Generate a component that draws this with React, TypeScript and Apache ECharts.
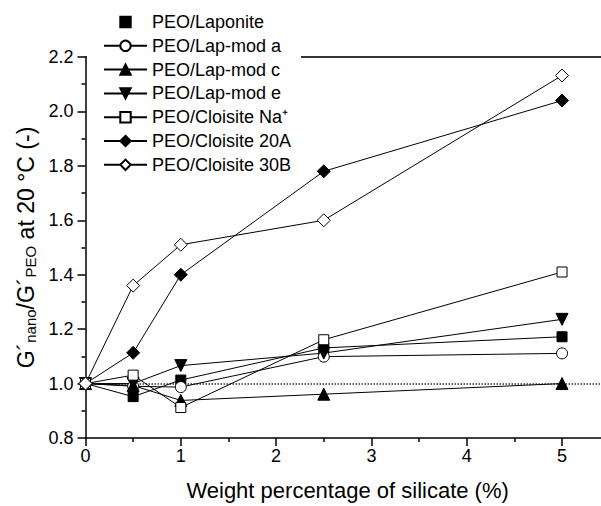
import React, { useEffect, useRef } from 'react';
import * as echarts from 'echarts';

// x positions (weight % of silicate)
const xValues = [0, 0.5, 1, 2.5, 5];

// G'nano / G'PEO at 20 °C
const laponite = [1.0, 0.952, 1.013, 1.131, 1.172];
const lapModA = [1.0, 0.99, 0.987, 1.099, 1.111];
const lapModC = [1.0, 0.993, 0.938, 0.961, 1.0];
const lapModE = [1.0, 1.0, 1.066, 1.112, 1.236];
const cloisiteNa = [1.0, 1.031, 0.912, 1.161, 1.41];
const cloisite20A = [1.0, 1.113, 1.4, 1.78, 2.04];
const cloisite30B = [1.0, 1.36, 1.51, 1.6, 2.132];

const seriesNames = [
  'PEO/Laponite',
  'PEO/Lap-mod a',
  'PEO/Lap-mod c',
  'PEO/Lap-mod e',
  'PEO/Cloisite Na⁺',
  'PEO/Cloisite 20A',
  'PEO/Cloisite 30B',
];

const referenceLevel = 1.0;

const FONT = '"Liberation Sans", Arial, sans-serif';

export default function App() {
  const ref = useRef<HTMLDivElement>(null);

  useEffect(() => {
    if (!ref.current) return;
    const chart = echarts.init(ref.current, undefined, { renderer: 'svg' });

    const filled = { color: '#000', borderColor: '#000', borderWidth: 1 };
    const open = { color: '#fff', borderColor: '#000', borderWidth: 1 };

    const defs = [
      { data: laponite, symbol: 'rect', size: 10, style: filled, rotate: 0 },
      { data: lapModA, symbol: 'circle', size: 11, style: open, rotate: 0 },
      { data: lapModC, symbol: 'triangle', size: 12, style: filled, rotate: 0 },
      { data: lapModE, symbol: 'triangle', size: 12, style: filled, rotate: 180 },
      { data: cloisiteNa, symbol: 'rect', size: 10, style: open, rotate: 0 },
      { data: cloisite20A, symbol: 'diamond', size: 13, style: filled, rotate: 0 },
      { data: cloisite30B, symbol: 'diamond', size: 13, style: open, rotate: 0 },
    ];

    const series: any[] = defs.map((d, i) => ({
      name: seriesNames[i],
      type: 'line',
      xAxisIndex: 0,
      yAxisIndex: 0,
      data: xValues.map((x, k) => [x, d.data[k]]),
      symbol: d.symbol,
      symbolSize: d.size,
      symbolRotate: d.rotate,
      showAllSymbol: true,
      itemStyle: d.style,
      lineStyle: { color: '#000', width: 1 },
      z: 3,
    }));

    series[0].markLine = {
      silent: true,
      symbol: ['none', 'none'],
      label: { show: false },
      lineStyle: { color: '#333', width: 1.5, type: [1.5, 1.5] },
      data: [{ yAxis: referenceLevel }],
      z: 1,
    };

    const option: any = {
      animation: false,
      backgroundColor: '#fff',
      grid: { left: 85.5, right: 10.3, top: 57, bottom: 66, containLabel: false },
      legend: {
        orient: 'vertical',
        left: 87,
        top: 10,
        padding: [3, 10, 4, 16],
        backgroundColor: '#fff',
        itemWidth: 43,
        itemHeight: 13,
        itemGap: 5.8,
        textStyle: { fontFamily: FONT, fontSize: 18, color: '#000', lineHeight: 18 },
        data: seriesNames.map((n, i) =>
          i === 0 ? { name: n, lineStyle: { opacity: 0 } } : { name: n }
        ),
        z: 10,
      },
      xAxis: [
        {
          type: 'value',
          position: 'bottom',
          min: 0,
          max: 5.5,
          interval: 1,
          name: 'Weight percentage of silicate (%)',
          nameLocation: 'middle',
          nameGap: 41,
          nameTextStyle: { fontFamily: FONT, fontSize: 22, color: '#000' },
          axisLine: { onZero: false, lineStyle: { color: '#000', width: 1.5 } },
          axisTick: { inside: false, length: 8, lineStyle: { color: '#000', width: 1.5 } },
          minorTick: { show: true, splitNumber: 2, length: 4, lineStyle: { color: '#000', width: 1.5 } },
          axisLabel: {
            margin: 9,
            fontFamily: FONT,
            fontSize: 18,
            color: '#000',
            formatter: (v: number) => (v > 5 ? '' : String(v)),
          },
          splitLine: { show: false },
        },
        {
          type: 'value',
          position: 'top',
          min: 0,
          max: 5.5,
          interval: 1,
          axisLine: { onZero: false, lineStyle: { color: '#333', width: 2 } },
          axisTick: { show: false },
          axisLabel: { show: false },
          splitLine: { show: false },
        },
      ],
      yAxis: {
        type: 'value',
        min: 0.8,
        max: 2.2,
        interval: 0.2,
        name: '{m|G´}{s|nano}{m|/G´}{s|PEO}{m| at 20 °C (-)}',
        nameLocation: 'middle',
        nameGap: 41,
        nameRotate: 90,
        nameTextStyle: {
          fontFamily: FONT,
          color: '#000',
          rich: {
            m: { fontFamily: FONT, fontSize: 23, color: '#000', lineHeight: 27, verticalAlign: 'bottom' },
            s: { fontFamily: FONT, fontSize: 15, color: '#000', lineHeight: 10, verticalAlign: 'bottom' },
          },
        },
        axisLine: { show: true, onZero: false, lineStyle: { color: '#000', width: 1.5 } },
        axisTick: { inside: false, length: 8, lineStyle: { color: '#000', width: 1.5 } },
        minorTick: { show: true, splitNumber: 2, length: 4, lineStyle: { color: '#000', width: 1.5 } },
        axisLabel: {
          margin: 12,
          fontFamily: FONT,
          fontSize: 18,
          color: '#000',
          formatter: (v: number) => v.toFixed(1),
        },
        splitLine: { show: false },
      },
      series,
    };

    chart.setOption(option);
    return () => chart.dispose();
  }, []);

  return (
    <div
      style={{
        position: 'fixed',
        left: 0,
        top: 0,
        width: 601,
        height: 506,
        overflow: 'hidden',
        background: '#fff',
      }}
    >
      <div ref={ref} style={{ width: 620, height: 506 }} />
    </div>
  );
}
